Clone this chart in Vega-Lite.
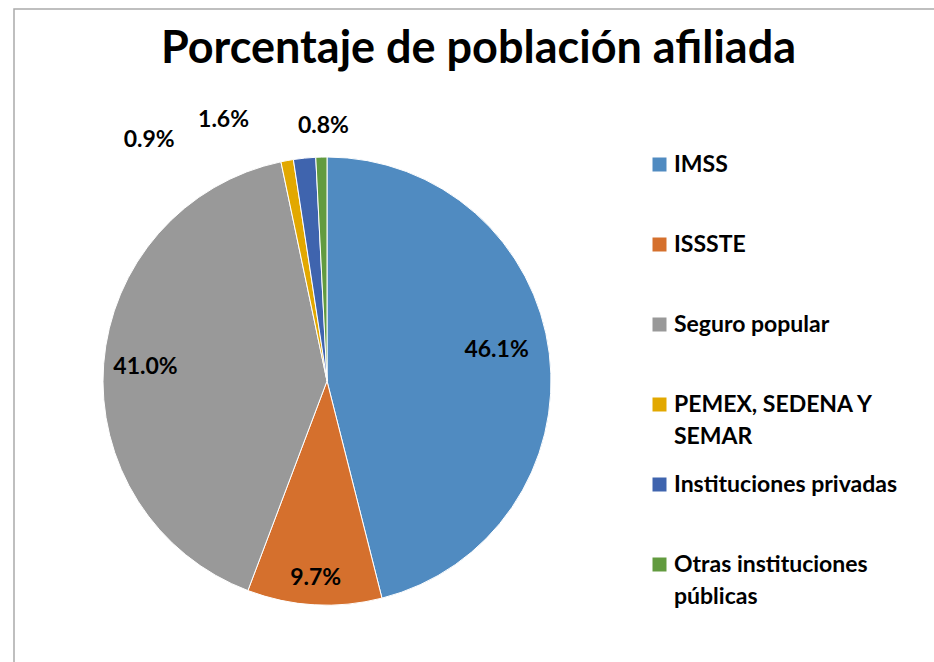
{
  "$schema": "https://vega.github.io/schema/vega-lite/v6.json",
  "width": 925,
  "height": 658,
  "autosize": {"type": "none"},
  "padding": {"left": 14, "top": 9, "right": -5, "bottom": -5},
  "background": "white",
  "view": {"stroke": "#aaaaaa", "strokeWidth": 1.5},
  "title": {
    "text": "Porcentaje de población afiliada",
    "font": "Lato",
    "fontSize": 45,
    "fontWeight": "bold",
    "color": "black",
    "anchor": "middle",
    "baseline": "alphabetic",
    "offset": -99,
    "dx": 2
  },
  "config": {
    "style": {"guide-label": {"lineHeight": 32, "dy": -11}}
  },
  "data": {
    "values": [
      {"institucion": "IMSS", "porcentaje": 0.461, "orden": 1},
      {"institucion": "ISSSTE", "porcentaje": 0.097, "orden": 2},
      {"institucion": "Seguro popular", "porcentaje": 0.41, "orden": 3},
      {"institucion": "PEMEX, SEDENA Y SEMAR", "porcentaje": 0.009, "orden": 4},
      {"institucion": "Instituciones privadas", "porcentaje": 0.016, "orden": 5},
      {"institucion": "Otras instituciones públicas", "porcentaje": 0.008, "orden": 6}
    ]
  },
  "encoding": {
    "theta": {"field": "porcentaje", "type": "quantitative", "stack": true},
    "order": {"field": "orden", "type": "quantitative"}
  },
  "layer": [
    {
      "mark": {"type": "arc", "outerRadius": 224, "x": 313, "y": 372, "stroke": "white", "strokeWidth": 1},
      "encoding": {
        "color": {
          "field": "institucion",
          "type": "nominal",
          "scale": {
            "domain": ["IMSS", "ISSSTE", "Seguro popular", "PEMEX, SEDENA Y SEMAR", "Instituciones privadas", "Otras instituciones públicas"],
            "range": ["#508BC1", "#D5702D", "#999999", "#E2A800", "#3F64AE", "#629B3F"]
          },
          "legend": {
            "title": null,
            "orient": "none",
            "legendX": 634,
            "legendY": 144,
            "padding": 0,
            "symbolType": "square",
            "symbolSize": 196,
            "symbolStrokeWidth": 0,
            "labelFont": "Lato",
            "labelFontSize": 23,
            "labelFontWeight": "bold",
            "labelColor": "black",
            "labelOffset": 3,
            "labelBaseline": "top",
            "labelLimit": 400,
            "gridAlign": "all",
            "rowPadding": 24,
            "labelExpr": "datum.label == 'PEMEX, SEDENA Y SEMAR' ? ['PEMEX, SEDENA Y', 'SEMAR'] : datum.label == 'Otras instituciones públicas' ? ['Otras instituciones', 'públicas'] : datum.label"
          }
        }
      }
    },
    {
      "mark": {"type": "text", "radius": 182, "x": 313, "y": 372, "dx": -11, "dy": -8, "font": "Lato", "fontSize": 23, "fontWeight": "bold", "color": "black"},
      "encoding": {
        "text": {"condition": {"test": "datum.institucion == 'IMSS'", "field": "porcentaje", "type": "quantitative", "format": ".1%"}, "value": ""}
      }
    },
    {
      "mark": {"type": "text", "radius": 182, "x": 313, "y": 372, "dx": -1, "dy": 15, "font": "Lato", "fontSize": 23, "fontWeight": "bold", "color": "black"},
      "encoding": {
        "text": {"condition": {"test": "datum.institucion == 'ISSSTE'", "field": "porcentaje", "type": "quantitative", "format": ".1%"}, "value": ""}
      }
    },
    {
      "mark": {"type": "text", "radius": 182, "x": 313, "y": 372, "font": "Lato", "fontSize": 23, "fontWeight": "bold", "color": "black"},
      "encoding": {
        "text": {"condition": {"test": "datum.institucion == 'Seguro popular'", "field": "porcentaje", "type": "quantitative", "format": ".1%"}, "value": ""}
      }
    },
    {
      "mark": {"type": "text", "radius": 224, "x": 313, "y": 372, "dx": -138, "dy": -21, "font": "Lato", "fontSize": 23, "fontWeight": "bold", "color": "black"},
      "encoding": {
        "text": {"condition": {"test": "datum.institucion == 'PEMEX, SEDENA Y SEMAR'", "field": "porcentaje", "type": "quantitative", "format": ".1%"}, "value": ""}
      }
    },
    {
      "mark": {"type": "text", "radius": 224, "x": 313, "y": 372, "dx": -81, "dy": -38, "font": "Lato", "fontSize": 23, "fontWeight": "bold", "color": "black"},
      "encoding": {
        "text": {"condition": {"test": "datum.institucion == 'Instituciones privadas'", "field": "porcentaje", "type": "quantitative", "format": ".1%"}, "value": ""}
      }
    },
    {
      "mark": {"type": "text", "radius": 224, "x": 313, "y": 372, "dx": 2, "dy": -31, "font": "Lato", "fontSize": 23, "fontWeight": "bold", "color": "black"},
      "encoding": {
        "text": {"condition": {"test": "datum.institucion == 'Otras instituciones públicas'", "field": "porcentaje", "type": "quantitative", "format": ".1%"}, "value": ""}
      }
    }
  ]
}
